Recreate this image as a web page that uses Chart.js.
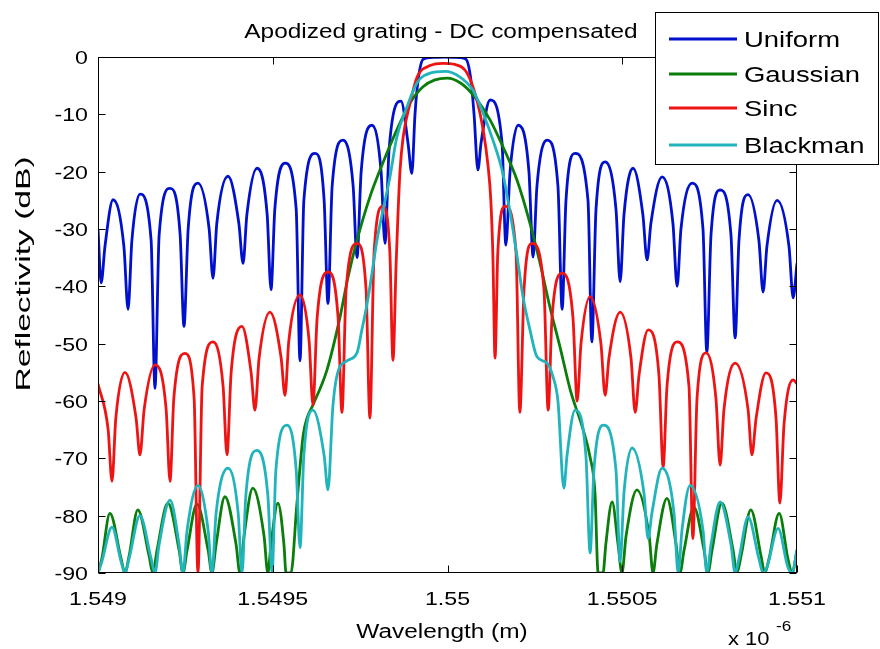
<!DOCTYPE html>
<html>
<head>
<meta charset="utf-8">
<script src="https://cdn.jsdelivr.net/npm/chart.js@4.4.0/dist/chart.umd.min.js"></script>
<style>
html, body { margin: 0; padding: 0; background: #fff; }
#wrap { position: relative; width: 880px; height: 649px; }
</style>
</head>
<body>
<div id="wrap"><canvas id="c" width="880" height="649"></canvas></div>
<script>
// wavelengths in nm, reflectivity in dB
var uniformNm = [1549.000, 1549.009, 1549.020, 1549.043, 1549.074, 1549.086, 1549.097, 1549.120, 1549.152, 1549.163,
  1549.175, 1549.206, 1549.235, 1549.246, 1549.258, 1549.286, 1549.318, 1549.329, 1549.340, 1549.372,
  1549.403, 1549.415, 1549.426, 1549.455, 1549.484, 1549.495, 1549.506, 1549.535, 1549.567, 1549.578,
  1549.589, 1549.621, 1549.647, 1549.658, 1549.670, 1549.701, 1549.730, 1549.741, 1549.753, 1549.784,
  1549.810, 1549.821, 1549.833, 1549.867, 1549.887, 1549.898, 1549.907, 1549.916, 1549.930, 1549.950,
  1549.993, 1550.036, 1550.053, 1550.067, 1550.076, 1550.087, 1550.096, 1550.122, 1550.156, 1550.167,
  1550.179, 1550.202, 1550.233, 1550.245, 1550.256, 1550.285, 1550.316, 1550.328, 1550.339, 1550.365,
  1550.402, 1550.413, 1550.425, 1550.451, 1550.482, 1550.494, 1550.505, 1550.531, 1550.559, 1550.571,
  1550.582, 1550.614, 1550.645, 1550.657, 1550.668, 1550.700, 1550.731, 1550.742, 1550.754, 1550.780,
  1550.811, 1550.823, 1550.834, 1550.860, 1550.891, 1550.903, 1550.914, 1550.943, 1550.977, 1550.989,
  1551.000];
var uniformDb = [-30, -39.4, -33, -24.9, -33, -44, -32, -23.9, -32, -57.8,
  -31, -22.9, -31, -47, -30, -22, -30, -38.6, -29, -20.8,
  -29, -36, -27.5, -19.4, -27.5, -40.6, -26.5, -18.5, -26.5, -53,
  -25, -16.8, -25, -43, -22.5, -14.5, -22.5, -35, -20, -11.9,
  -20, -32.5, -16, -7.7, -15, -20.3, -10, -4, -0.4, -0.1,
  0, -0.1, -0.4, -4, -10, -19.7, -15, -7.5, -15, -32.8,
  -20, -11.9, -20, -34.9, -22.5, -14.5, -22.5, -44, -25, -16.8,
  -25, -49.7, -26.5, -18.3, -26.5, -39.2, -27.5, -19.4, -27.5, -35.4,
  -29, -20.9, -29, -40, -30, -22, -30, -51.5, -31, -23.2,
  -31, -49, -32, -24, -32, -41, -33, -25, -33, -42,
  -36];

var gaussNm = [1549.000, 1549.011, 1549.034, 1549.066, 1549.077, 1549.089, 1549.114, 1549.146, 1549.157, 1549.169,
  1549.200, 1549.232, 1549.243, 1549.255, 1549.283, 1549.315, 1549.326, 1549.338, 1549.363, 1549.395,
  1549.406, 1549.418, 1549.443, 1549.475, 1549.486, 1549.495, 1549.515, 1549.532, 1549.538, 1549.552,
  1549.569, 1549.587, 1549.598, 1549.615, 1549.655, 1549.692, 1549.715, 1549.741, 1549.778, 1549.815,
  1549.855, 1549.893, 1549.930, 1549.964, 1549.999, 1550.036, 1550.073, 1550.122, 1550.159, 1550.199,
  1550.236, 1550.265, 1550.293, 1550.322, 1550.351, 1550.388, 1550.408, 1550.422, 1550.431, 1550.445,
  1550.453, 1550.471, 1550.488, 1550.499, 1550.511, 1550.542, 1550.577, 1550.588, 1550.599, 1550.628,
  1550.654, 1550.665, 1550.677, 1550.705, 1550.734, 1550.745, 1550.757, 1550.785, 1550.817, 1550.828,
  1550.840, 1550.868, 1550.897, 1550.908, 1550.920, 1550.949, 1550.974, 1550.986, 1551.000];
var gaussDb = [-90, -87.5, -79.6, -87.5, -90, -87, -79, -87, -90, -86,
  -77.8, -86, -90, -86, -78, -86, -90, -85, -76.7, -85,
  -90, -83.5, -75.2, -83.5, -90, -85, -77.8, -85, -90, -90,
  -78, -66, -63, -60.7, -54.6, -45.5, -38.5, -32, -24.4, -18.5,
  -12.7, -8, -5.2, -4, -3.7, -4.5, -6.6, -11, -15.7, -21.5,
  -29, -36, -43.6, -50.6, -58, -65, -69.8, -76, -90, -90,
  -85, -77.6, -85, -90, -83.5, -75.5, -83.5, -90, -85, -77,
  -85, -90, -86, -78.5, -86, -90, -86, -77.8, -86, -90,
  -87, -79, -87, -90, -87.5, -79.6, -87.5, -90, -86];

var sincNm = [1549.000, 1549.029, 1549.040, 1549.051, 1549.077, 1549.109, 1549.120, 1549.132, 1549.163, 1549.195,
  1549.206, 1549.217, 1549.249, 1549.275, 1549.286, 1549.298, 1549.329, 1549.358, 1549.369, 1549.381,
  1549.412, 1549.438, 1549.449, 1549.461, 1549.492, 1549.524, 1549.535, 1549.546, 1549.578, 1549.604,
  1549.615, 1549.627, 1549.658, 1549.687, 1549.698, 1549.710, 1549.741, 1549.767, 1549.778, 1549.790,
  1549.815, 1549.835, 1549.844, 1549.853, 1549.858, 1549.864, 1549.873, 1549.893, 1549.913, 1549.950,
  1549.987, 1550.021, 1550.056, 1550.084, 1550.102, 1550.116, 1550.124, 1550.130, 1550.136, 1550.144,
  1550.165, 1550.196, 1550.207, 1550.219, 1550.242, 1550.276, 1550.288, 1550.299, 1550.328, 1550.359,
  1550.371, 1550.382, 1550.408, 1550.439, 1550.451, 1550.462, 1550.494, 1550.525, 1550.537, 1550.548,
  1550.574, 1550.605, 1550.617, 1550.628, 1550.657, 1550.691, 1550.702, 1550.714, 1550.740, 1550.768,
  1550.780, 1550.791, 1550.823, 1550.860, 1550.871, 1550.883, 1550.911, 1550.940, 1550.951, 1550.963,
  1550.989, 1551.000];
var sincDb = [-57, -65, -74, -63, -55, -63, -69.4, -61.5, -53.7, -61.5,
  -74, -59.5, -51.7, -59.5, -90, -57.5, -49.7, -57.5, -69.4, -55,
  -47, -55, -61.6, -52.5, -44.5, -52.5, -59, -49.5, -41.5, -49.5,
  -60.7, -45.5, -37.5, -45.5, -62, -40.5, -32.5, -40.5, -63, -34,
  -26, -34, -52.9, -36, -28, -20, -14, -8, -3.5, -1.5,
  -1.1, -1.3, -2.8, -7.5, -12.7, -19, -25, -35, -52.5, -34,
  -26, -34, -62, -40.5, -32.5, -40.5, -61.6, -45.5, -37.7, -45.5,
  -60, -50, -41.8, -50, -59, -52.5, -44.5, -52.5, -62, -55.5,
  -47.6, -55.5, -71.5, -57.5, -49.7, -57.5, -84, -59.5, -51.6, -59.5,
  -71.2, -61.5, -53.4, -61.5, -69.4, -63, -55.1, -63, -77.8, -64,
  -56.3, -57];

var blackNm = [1549.000, 1549.011, 1549.040, 1549.066, 1549.077, 1549.089, 1549.120, 1549.152, 1549.163, 1549.175,
  1549.206, 1549.232, 1549.243, 1549.255, 1549.286, 1549.315, 1549.326, 1549.338, 1549.372, 1549.401,
  1549.412, 1549.423, 1549.455, 1549.486, 1549.498, 1549.509, 1549.541, 1549.567, 1549.578, 1549.589,
  1549.615, 1549.647, 1549.658, 1549.672, 1549.684, 1549.712, 1549.741, 1549.755, 1549.770, 1549.784,
  1549.798, 1549.818, 1549.835, 1549.855, 1549.884, 1549.913, 1549.950, 1549.993, 1550.036, 1550.073,
  1550.102, 1550.130, 1550.156, 1550.173, 1550.187, 1550.202, 1550.216, 1550.236, 1550.256, 1550.285,
  1550.302, 1550.316, 1550.333, 1550.342, 1550.365, 1550.396, 1550.408, 1550.419, 1550.445, 1550.482,
  1550.494, 1550.505, 1550.528, 1550.562, 1550.574, 1550.585, 1550.614, 1550.648, 1550.660, 1550.671,
  1550.694, 1550.731, 1550.742, 1550.754, 1550.780, 1550.811, 1550.823, 1550.834, 1550.860, 1550.891,
  1550.903, 1550.914, 1550.946, 1550.974, 1550.986, 1551.000];
var blackDb = [-90, -88, -82, -88, -90, -87.5, -80, -87.5, -90, -85,
  -77.3, -85, -90, -82.5, -74.7, -82.5, -90, -79.5, -71.7, -79.5,
  -90, -76.5, -68.6, -76.5, -90, -72, -64.2, -72, -85.6, -69.5,
  -61.6, -69.5, -75.5, -61, -55.5, -53, -51.6, -47.6, -43, -37.7,
  -32, -26, -21, -14, -8.7, -4.5, -2.8, -2.5, -3.5, -5.8,
  -9.8, -14.5, -19.7, -25, -30, -36, -41.8, -47.6, -52.3, -53.4,
  -55.8, -60, -75.2, -69.5, -61.6, -69.5, -86.5, -72, -64.2, -72,
  -88, -76, -68.2, -76, -84, -79.5, -71.7, -79.5, -90, -82.5,
  -74.7, -82.5, -90, -85, -77.6, -85, -90, -87.5, -80.2, -87.5,
  -90, -89, -82.2, -89, -90, -86];

var seriesNames = ['Uniform', 'Gaussian', 'Sinc', 'Blackman'];
var seriesColors = ['#0010cc', '#0a7d0a', '#ee1414', '#22b4bc'];
var xTickValues = [1549, 1549.5, 1550, 1550.5, 1551];
var xTickLabels = ['1.549', '1.5495', '1.55', '1.5505', '1.551'];
var yTickValues = [0, -10, -20, -30, -40, -50, -60, -70, -80, -90];
var yTickLabels = ['0', '-10', '-20', '-30', '-40', '-50', '-60', '-70', '-80', '-90'];

var titleText = 'Apodized grating - DC compensated';
var xLabelText = 'Wavelength (m)';
var yLabelText = 'Reflectivity (dB)';

var fontFam = '"Liberation Sans", Arial, sans-serif';
var stretch = 1.22;

function pts(xs, ys) {
  return xs.map(function (x, i) { return { x: x, y: ys[i] }; });
}

function wideText(ctx, s, x, y, align, size) {
  ctx.save();
  ctx.font = size + 'px ' + fontFam;
  ctx.translate(x, y);
  ctx.scale(stretch, 1);
  ctx.textAlign = align;
  ctx.textBaseline = 'alphabetic';
  ctx.fillText(s, 0, 0);
  ctx.restore();
}

var decor = {
  id: 'decor',
  afterDraw: function (chart) {
    var ctx = chart.ctx, a = chart.chartArea;
    var sx = chart.scales.x, sy = chart.scales.y;
    var l = Math.round(a.left) + 0.5, r = Math.round(a.right) - 0.5;
    var t = Math.round(a.top) + 0.5, b = Math.round(a.bottom) - 0.5;
    ctx.save();
    ctx.strokeStyle = '#000';
    ctx.lineWidth = 1;
    ctx.strokeRect(l, t, r - l, b - t);
    ctx.beginPath();
    xTickValues.forEach(function (v) {
      var p = Math.round(sx.getPixelForValue(v)) + 0.5;
      ctx.moveTo(p, b); ctx.lineTo(p, b - 7);
      ctx.moveTo(p, t); ctx.lineTo(p, t + 7);
    });
    yTickValues.forEach(function (v) {
      var p = Math.round(sy.getPixelForValue(v)) + 0.5;
      ctx.moveTo(l, p); ctx.lineTo(l + 7, p);
      ctx.moveTo(r, p); ctx.lineTo(r - 7, p);
    });
    ctx.stroke();

    ctx.fillStyle = '#000';
    xTickValues.forEach(function (v, i) {
      wideText(ctx, xTickLabels[i], sx.getPixelForValue(v), 605, 'center', 19);
    });
    yTickValues.forEach(function (v, i) {
      wideText(ctx, yTickLabels[i], 88, sy.getPixelForValue(v) + 7, 'right', 19);
    });
    wideText(ctx, titleText, 441, 38, 'center', 20);
    wideText(ctx, xLabelText, 442, 638, 'center', 20);
    wideText(ctx, 'x 10', 728, 645, 'left', 18);
    wideText(ctx, '-6', 776, 631, 'left', 14);

    ctx.save();
    ctx.translate(30, 274);
    ctx.rotate(-Math.PI / 2);
    ctx.scale(1.6, 1.0);
    ctx.font = '21px ' + fontFam;
    ctx.textAlign = 'center';
    ctx.fillText(yLabelText, 0, 0);
    ctx.restore();

    // legend box
    ctx.fillStyle = '#fff';
    ctx.fillRect(655, 12, 224, 153);
    ctx.strokeRect(655.5, 12.5, 223, 152);
    var rows = [39, 74, 108, 145];
    seriesNames.forEach(function (name, i) {
      ctx.strokeStyle = seriesColors[i];
      ctx.lineWidth = 3;
      ctx.beginPath();
      ctx.moveTo(669, rows[i]); ctx.lineTo(737, rows[i]);
      ctx.stroke();
      ctx.fillStyle = '#000';
      wideText(ctx, name, 744, rows[i] + 8, 'left', 22.5);
    });
    ctx.restore();
  }
};

var datasets = [
  { label: seriesNames[0], data: pts(uniformNm, uniformDb), order: 3 },
  { label: seriesNames[1], data: pts(gaussNm, gaussDb), order: 2 },
  { label: seriesNames[2], data: pts(sincNm, sincDb), order: 1 },
  { label: seriesNames[3], data: pts(blackNm, blackDb), order: 0 }
].map(function (d, i) {
  d.borderColor = seriesColors[i];
  d.backgroundColor = seriesColors[i];
  d.borderWidth = 2.8;
  d.pointRadius = 0;
  d.fill = false;
  d.cubicInterpolationMode = 'monotone';
  return d;
});

new Chart(document.getElementById('c'), {
  type: 'line',
  data: { datasets: datasets },
  options: {
    responsive: false,
    animation: false,
    devicePixelRatio: 1,
    layout: { padding: { top: 57, right: 83, left: 0, bottom: 0 } },
    plugins: { legend: { display: false }, title: { display: false }, tooltip: { enabled: false } },
    scales: {
      x: {
        type: 'linear', min: 1549, max: 1551,
        grid: { display: false }, border: { display: false },
        ticks: { display: false },
        afterFit: function (s) { s.height = 76; }
      },
      y: {
        min: -90, max: 0,
        grid: { display: false }, border: { display: false },
        ticks: { display: false },
        afterFit: function (s) { s.width = 98; }
      }
    }
  },
  plugins: [decor]
});
</script>
</body>
</html>
